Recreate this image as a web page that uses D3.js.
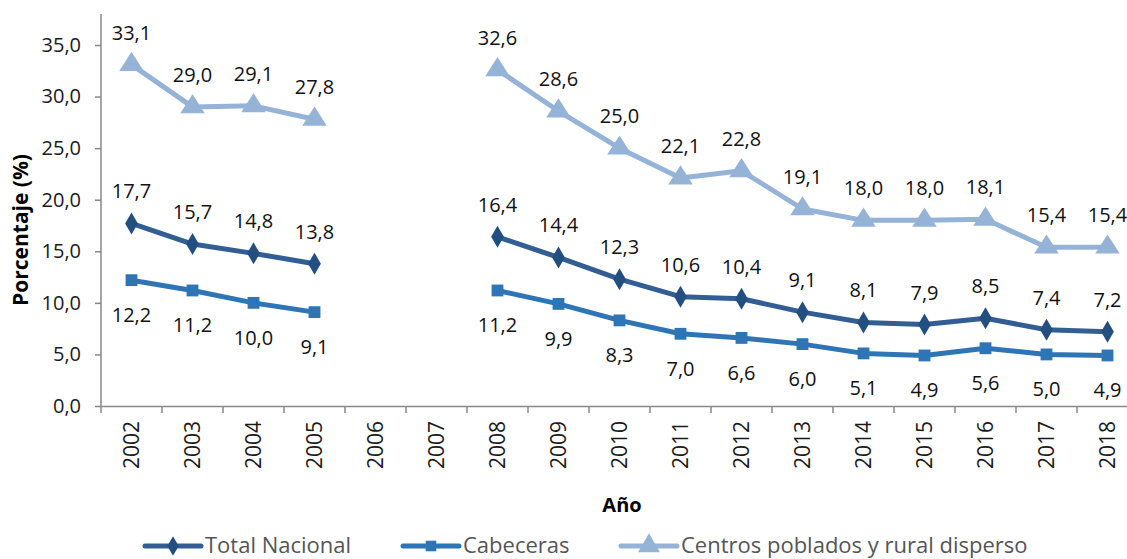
<!DOCTYPE html>
<html><head><meta charset="utf-8">
<script src="https://cdn.jsdelivr.net/npm/d3@7"></script>
<style>body{margin:0;background:#fff;} svg{display:block;font-family:"Open Sans",sans-serif;}</style>
</head><body>
<svg id="c" width="1127" height="559"></svg>
<script>
const years = ["2002","2003","2004","2005","2006","2007","2008","2009","2010","2011","2012","2013","2014","2015","2016","2017","2018"];
const totalNacional = [17.7,15.7,14.8,13.8,null,null,16.4,14.4,12.3,10.6,10.4,9.1,8.1,7.9,8.5,7.4,7.2];
const cabeceras = [12.2,11.2,10.0,9.1,null,null,11.2,9.9,8.3,7.0,6.6,6.0,5.1,4.9,5.6,5.0,4.9];
const centrosPoblados = [33.1,29.0,29.1,27.8,null,null,32.6,28.6,25.0,22.1,22.8,19.1,18.0,18.0,18.1,15.4,15.4];
const yTicks = [0,5,10,15,20,25,30,35];
const yMax = 38;
const seriesNames = ["Total Nacional","Cabeceras","Centros poblados y rural disperso"];

const svg = d3.select("#c");
const x0 = 101, y0 = 406, step = 61, unit = 10.314;
const x = d3.scaleBand().domain(years).range([x0, x0 + step*years.length]).padding(0);
const y = d3.scaleLinear().domain([0, yMax]).range([y0, y0 - yMax*unit]);
const axisCol = "#878787";
const fs = 20;
const fmt = v => d3.format(".1f")(v).replace(".", ",");

// y axis
const ya = svg.append("g").attr("transform", `translate(${x0},0)`)
  .call(d3.axisLeft(y).tickValues(yTicks).tickSize(6).tickPadding(14).tickFormat(fmt));
ya.select(".domain").attr("stroke", axisCol).attr("stroke-width", 1.5).attr("d", `M0,${y(yMax)}V${y0}`);
ya.selectAll(".tick line").attr("stroke", axisCol).attr("stroke-width", 1.5);
ya.selectAll(".tick text").attr("font-size", fs).attr("fill", "#1a1a1a").attr("font-family", "Open Sans");

// x axis
const xa = svg.append("g").attr("transform", `translate(0,${y0})`)
  .call(d3.axisBottom(x).tickSize(0).tickFormat(d => d));
xa.select(".domain").attr("stroke", axisCol).attr("stroke-width", 1.5);
xa.selectAll(".tick text").attr("font-size", fs+1).attr("fill", "#1a1a1a").attr("font-family", "Open Sans")
  .attr("text-anchor", "end").attr("transform", "translate(0,15) rotate(-90)").attr("dy", "0.35em").attr("y", 0).attr("x", 0);
// boundary ticks between categories
svg.append("g").selectAll("line").data(years.concat(["end"])).join("line")
  .attr("x1", (d,i) => x0 + i*x.step()).attr("x2", (d,i) => x0 + i*x.step())
  .attr("y1", y0).attr("y2", y0 + 7).attr("stroke", axisCol).attr("stroke-width", 1.5);

// titles
svg.append("text").attr("transform", `translate(28,230) rotate(-90)`).attr("text-anchor", "middle")
  .attr("font-size", fs+1).attr("font-weight", "bold").attr("fill", "#000").text("Porcentaje (%)");
svg.append("text").attr("x", 622).attr("y", 512).attr("text-anchor", "middle")
  .attr("font-size", fs).attr("font-weight", "bold").attr("fill", "#000").text("Año");

const series = [
  {name: seriesNames[0], values: totalNacional, color: "#325E94", mark: "#234E80", shape: d3.symbolDiamond, size: 140, lw: 5, above: true},
  {name: seriesNames[1], values: cabeceras, color: "#2E75B6", mark: "#2E75B6", shape: d3.symbolSquare, size: 140, lw: 5, above: false},
  {name: seriesNames[2], values: centrosPoblados, color: "#95B3D7", mark: "#95B3D7", shape: d3.symbolTriangle, size: 260, lw: 5, above: true}
];

const line = d3.line().defined(d => d.v != null).x(d => x(d.k) + x.bandwidth()/2).y(d => y(d.v));
series.forEach(s => {
  const pts = years.map((k,i) => ({k, v: s.values[i]}));
  const g = svg.append("g");
  g.append("path").datum(pts).attr("d", line).attr("fill", "none").attr("stroke", s.color)
    .attr("stroke-width", s.lw).attr("stroke-linejoin", "round");
  const valid = pts.filter(d => d.v != null);
  g.selectAll("path.m").data(valid).join("path").attr("class", "m")
    .attr("d", d3.symbol().type(s.shape).size(s.size))
    .attr("transform", d => `translate(${x(d.k)+x.bandwidth()/2},${y(d.v)}) scale(1,${s.shape===d3.symbolTriangle?0.9:1})`)
    .attr("fill", s.mark);
  g.selectAll("text").data(valid).join("text")
    .attr("x", d => x(d.k) + x.bandwidth()/2)
    .attr("y", d => s.above ? y(d.v) - 25 : y(d.v) + 42)
    .attr("text-anchor", "middle").attr("font-size", fs).attr("fill", "#111").text(d => fmt(d.v));
});

// legend
const legX = [145, 403, 621];
const leg = svg.append("g");
series.forEach((s, i) => {
  const lx = legX[i], ly = 546;
  leg.append("line").attr("x1", lx).attr("x2", lx + 56).attr("y1", ly).attr("y2", ly)
    .attr("stroke", s.color).attr("stroke-width", 5).attr("stroke-linecap", "round");
  leg.append("path").attr("d", d3.symbol().type(s.shape).size(s.size*0.8)).attr("transform", `translate(${lx+28},${ly})`).attr("fill", s.mark);
  leg.append("text").attr("x", lx + 60).attr("y", 553).attr("font-size", 22).attr("fill", "#555").text(s.name);
});
</script>
</body></html>
